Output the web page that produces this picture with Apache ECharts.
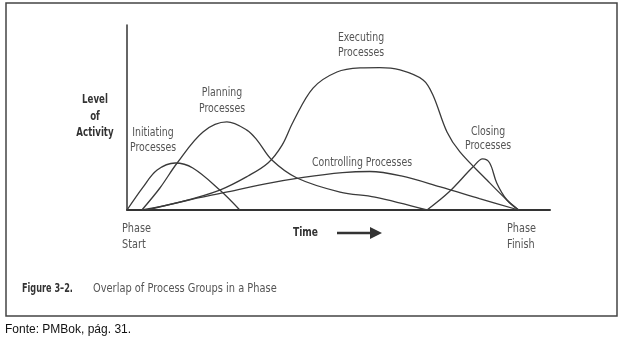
<!DOCTYPE html>
<html><head><meta charset="utf-8">
<script src="https://cdn.jsdelivr.net/npm/echarts@6/dist/echarts.min.js"></script>
<style>html,body{margin:0;padding:0;background:#fff}#c{width:622px;height:339px}</style>
</head><body><div id="c"></div>
<script>
// Time: 0 = Phase Start, 100 = Phase Finish; Level: 0..100 of axis height
const initiating = [[0,0],[4.1,12.4],[7.7,21.6],[12.3,25.4],[16.8,22.7],[23.7,10.8],[28.8,0]];
const planning = [[3.8,0],[8.4,11.9],[12.8,25.4],[19.4,42.2],[25.5,47.6],[30.6,43.2],[33.2,37.8],[37.0,27],[43.4,17.3],[54.4,9.7],[63.3,7.0],[76.6,0]];
const executing = [[3.8,0],[13.5,4.3],[23.7,10.8],[30.9,18.4],[36.0,25.4],[39.6,35.1],[42.4,47.6],[47.5,65.9],[53.6,74.6],[59.5,76.8],[64.5,77.0],[69.7,75.7],[75.6,70.3],[78.1,62.2],[81.7,42.2],[85.0,31.4],[91.9,16.2],[97.0,5.4],[100,0]];
const controlling = [[5.1,0],[15,5],[25,9.5],[35,14],[45,17.6],[55,20.2],[62,20.8],[70,18.4],[80,12.5],[90,6.2],[100,0]];
const closing = [[76.6,0],[82.2,9.7],[88.3,23.2],[90.8,27.6],[92.6,25.4],[94.4,14.6],[97.0,5.4],[100,0]];
const seriesNames = ['Initiating Processes','Planning Processes','Executing Processes','Controlling Processes','Closing Processes'];
const seriesData = [initiating, planning, executing, controlling, closing];

const FN = "'DejaVu Sans',sans-serif";
const chart = echarts.init(document.getElementById('c'), null, {renderer:'canvas'});
function txt(x, y, t, opt, sx) {
  return {type:'text', x:x, y:y, scaleX:(sx==null?0.78:sx),
    style:Object.assign({text:t, fill:'#555', font:'12px ' + FN, align:'center', verticalAlign:'middle'}, opt||{})};
}
const B = {fill:'#333', font:'bold 12px ' + FN};
chart.setOption({
  backgroundColor:'#fff',
  animation:false,
  grid:{left:127, top:25, width:423, height:185},
  xAxis:{type:'value', min:0, max:108, axisLine:{show:true, lineStyle:{color:'#333', width:2}}, axisTick:{show:false}, axisLabel:{show:false}, splitLine:{show:false}},
  yAxis:{type:'value', min:0, max:100, axisLine:{show:true, lineStyle:{color:'#333', width:1.5}}, axisTick:{show:false}, axisLabel:{show:false}, splitLine:{show:false}},
  series: seriesData.map((d,i)=>({
    type:'line', name:seriesNames[i], data:d, smooth:0.35, symbol:'none',
    lineStyle:{color:'#3a3a3a', width:1.3}
  })),
  graphic:[
    {type:'rect', shape:{x:6, y:3, width:611, height:313}, style:{fill:null, stroke:'#444', lineWidth:1.5}, z:-1},
    txt(95,100,'Level',B,0.72),
    txt(95,117,'of',B,0.72),
    txt(95,133,'Activity',B,0.72),
    txt(153,133,'Initiating'), txt(153,148,'Processes'),
    txt(222,93,'Planning'), txt(222,109,'Processes'),
    txt(361,38,'Executing'), txt(361,53,'Processes'),
    txt(362,163,'Controlling Processes'),
    txt(488,132,'Closing'), txt(488,146,'Processes'),
    txt(122,229,'Phase',{align:'left'},0.81), txt(122,245,'Start',{align:'left'},0.81),
    txt(507,229,'Phase',{align:'left'},0.81), txt(507,245,'Finish',{align:'left'},0.81),
    txt(293,233,'Time',Object.assign({align:'left'},B),0.76),
    {type:'line', shape:{x1:337, y1:233, x2:372, y2:233}, style:{stroke:'#333', lineWidth:2.5}},
    {type:'polygon', shape:{points:[[370,227],[382,233],[370,239]]}, style:{fill:'#333'}},
    txt(22,289,'Figure 3\u20132.',Object.assign({align:'left'},B),0.68),
    txt(93,289,'Overlap of Process Groups in a Phase',{align:'left'},0.82),
    txt(5,330,'Fonte: PMBok, p\u00e1g. 31.',{align:'left', fill:'#111', font:'12px "Liberation Sans", Arial, sans-serif'},1)
  ]
});
</script></body></html>
